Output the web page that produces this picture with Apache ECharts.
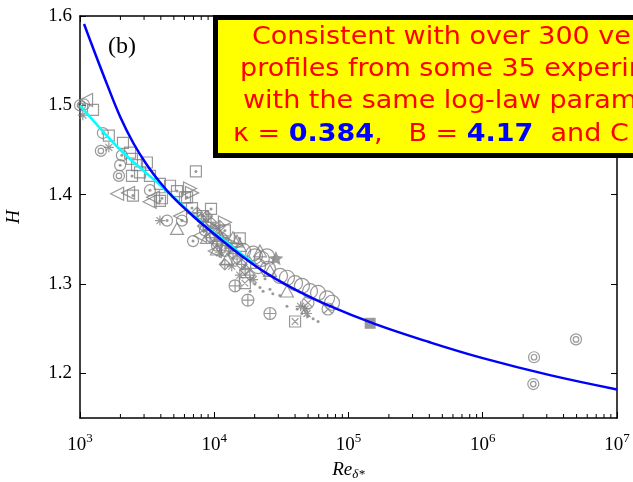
<!DOCTYPE html>
<html>
<head>
<meta charset="utf-8">
<script src="https://cdn.jsdelivr.net/npm/echarts@6/dist/echarts.min.js"></script>
<style>
  html, body { margin: 0; padding: 0; background: #fff; }
  #show { width: 633px; height: 482px; }
</style>
</head>
<body>
<div id="show"></div>
<script>
// model curve and the short fit line
var blueCurve = [[1072,1.591],[1259,1.563],[1585,1.524],[1995,1.487],[2512,1.457],[3162,1.433],[3981,1.413],
    [5012,1.396],[7079,1.375],[10000,1.356],[15850,1.332],[25120,1.311],[39810,1.294],[70800,1.276],
    [158500,1.255],[398100,1.235],[1000000,1.217],[3162000,1.198],[10000000,1.182]];
var cyanLine = [[1000,1.500],[2000,1.450],[4150,1.408],[8250,1.367],[11600,1.350],[20000,1.322]];

// experimental profiles, one array per marker type
var circleDot = [[1070,1.501],[1480,1.469],[2050,1.444],[1990,1.433],[5750,1.371],[6950,1.348],[4450,1.371],
    [8530,1.360],[10480,1.343],[3320,1.405],[12000,1.337]];
var squareDot = [[2440,1.421],[2480,1.399],[7300,1.426],[4080,1.396],[5280,1.404],[6270,1.397],[6830,1.385],
    [9460,1.384],[8250,1.376],[3940,1.393],[12000,1.360],[15500,1.351]];
var openSquare = [[1250,1.495],[1640,1.466],[2090,1.458],[2360,1.447],[2440,1.440],[2660,1.433],[3150,1.436],
    [3940,1.412],[6050,1.397],[2800,1.425],[3320,1.421],[4680,1.410]];
var triLeft = [[1110,1.506],[1890,1.401],[2280,1.402],[3500,1.397],[3300,1.392],[5560,1.376],[7830,1.354],[10100,1.337]];
var triRight = [[6600,1.407],[6830,1.402],[12000,1.369],[14300,1.343],[9300,1.365]];
var triUp = [[14800,1.348],[34800,1.292],[21900,1.337],[11000,1.354],[18400,1.324],[26000,1.315],[5280,1.362],
    [8830,1.352],[13800,1.352],[15500,1.343],[10480,1.339],[12450,1.328]];
var bigCircle = [[16400,1.337],[20100,1.331],[21200,1.320],[25100,1.317],[30900,1.309],[34800,1.307],[40000,1.301],
    [45000,1.298],[51700,1.292],[59300,1.290],[69200,1.284],[75400,1.279],[22600,1.328],[19500,1.334],[24700,1.331]];
var circlePlus = [[14300,1.298],[17800,1.282],[26000,1.267]];
var squareX = [[16900,1.301],[40000,1.258]];
var circleX = [[49900,1.279],[70400,1.272]];
var concentric = [[1000,1.500],[1430,1.449],[1950,1.421],[2410000,1.218],[2380000,1.188],[4950000,1.238]];
var asterisk = [[1050,1.489],[1640,1.453],[3940,1.371],[47400,1.272],[49100,1.267],[13500,1.320],[15500,1.310],
    [19500,1.305],[11000,1.335],[44000,1.275]];
var starPts = [[28800,1.329]];
var smallDots = [[21900,1.296],[23100,1.292],[26000,1.294],[27300,1.289],[30800,1.287],[34800,1.275],[41400,1.272],
    [44900,1.267],[49900,1.264],[54500,1.261],[59300,1.258],[20100,1.300],[23900,1.306],[18500,1.292]];
var diamondPlus = [[7440,1.380],[8000,1.373],[8830,1.376],[9460,1.369],[9790,1.362],[10500,1.357],[11000,1.365],
    [11600,1.352],[12450,1.346],[13100,1.340],[13800,1.334],[14800,1.328],[16000,1.322],[17000,1.316],[18400,1.310],
    [8250,1.365],[9300,1.352],[10500,1.345],[12000,1.322]];
var filledSquare = [[145000,1.256]];

var yTicks = [1.2, 1.3, 1.4, 1.5, 1.6];
var decades = [1e3, 1e4, 1e5, 1e6];
var minorMult = [2, 3, 4, 5, 6, 7, 8, 9];

var minorTicks = [];
decades.forEach(function (d) {
    minorMult.forEach(function (m) { minorTicks.push([d * m, 1.15]); });
});

var gray = '#808080';
var P_CIRCLE = 'path://M0,10 A10,10 0 1,1 20,10 A10,10 0 1,1 0,10 Z';
var P_SQUARE = 'path://M0,0 L20,0 L20,20 L0,20 Z';
var P_TLEFT = 'path://M0,10 L20,0 L20,20 Z';
var P_TRIGHT = 'path://M20,10 L0,0 L0,20 Z';
var P_TUP = 'path://M10,0 L20,18 L0,18 Z';
var P_CPLUS = 'path://M0,10 A10,10 0 1,1 20,10 A10,10 0 1,1 0,10 Z M10,0 L10,20 M0,10 L20,10';
var P_SQX = 'path://M0,0 L20,0 L20,20 L0,20 Z M4,4 L16,16 M16,4 L4,16';
var P_CX = 'path://M0,10 A10,10 0 1,1 20,10 A10,10 0 1,1 0,10 Z M3,3 L17,17 M17,3 L3,17';
var P_CONC = 'path://M0,10 A10,10 0 1,1 20,10 A10,10 0 1,1 0,10 Z M5,10 A5,5 0 1,1 15,10 A5,5 0 1,1 5,10 Z';
var P_AST = 'path://M10,0 L10,20 M0,10 L20,10 M3,3 L17,17 M17,3 L3,17';
var P_STAR = 'path://M10,0 L12.9,6.9 L20,7.6 L14.6,12.2 L16.2,19.1 L10,15.3 L3.8,19.1 L5.4,12.2 L0,7.6 L7.1,6.9 Z';
var P_DPLUS = 'path://M10,0 L20,10 L10,20 L0,10 Z M10,0 L10,20 M0,10 L20,10';

function openSeries(data, symbol, size) {
    return {
        type: 'scatter', data: data, symbol: symbol, symbolSize: size, symbolKeepAspect: true,
        itemStyle: { color: 'transparent', borderColor: gray, borderWidth: 1.2 },
        silent: true, clip: false
    };
}
function fillSeries(data, symbol, size) {
    return {
        type: 'scatter', data: data, symbol: symbol, symbolSize: size, symbolKeepAspect: true,
        itemStyle: { color: gray }, silent: true, clip: false
    };
}

var serif = '"Liberation Serif", "DejaVu Serif", serif';
var boxFont = '25px "DejaVu Sans"';
var myChart = echarts.init(document.getElementById('show'));

var xAxisBase = {
    type: 'log', logBase: 10, min: 1e3, max: 1e7,
    axisLine: { show: true, lineStyle: { color: '#000', width: 1.5 } },
    axisTick: { show: true, inside: true, length: 6, lineStyle: { color: '#000', width: 1 } },
    splitLine: { show: false }
};
var yAxisBase = {
    type: 'value', min: 1.15, max: 1.6,
    axisLine: { show: true, lineStyle: { color: '#000', width: 1.5 } },
    axisTick: { show: true, inside: true, length: 6, customValues: yTicks, lineStyle: { color: '#000', width: 1 } },
    splitLine: { show: false }
};

function boxLine(text, x, y) {
    return { type: 'text', x: x, y: y, scaleX: 1.08, z: 101,
        style: { text: text, font: boxFont, fill: '#ff0000', verticalAlign: 'middle' } };
}

var option = {
    animation: false,
    backgroundColor: '#fff',
    grid: { left: 80, right: 16, top: 16, bottom: 64, outerBoundsMode: 'none' },
    xAxis: [
        Object.assign({}, xAxisBase, {
            position: 'bottom',
            name: '{i|Re}{s|δ*}', nameLocation: 'middle', nameGap: 40,
            nameTextStyle: {
                rich: {
                    i: { fontFamily: serif, fontStyle: 'italic', fontSize: 19, color: '#000' },
                    s: { fontFamily: serif, fontStyle: 'italic', fontSize: 13, color: '#000', padding: [10, 0, 0, 0] }
                }
            },
            axisLabel: {
                margin: 14,
                formatter: function (v) { return '{b|10}{s|' + Math.round(Math.log10(v)) + '}'; },
                rich: {
                    b: { fontFamily: serif, fontSize: 19, color: '#000', lineHeight: 26 },
                    s: { fontFamily: serif, fontSize: 13, color: '#000', lineHeight: 14, verticalAlign: 'top' }
                }
            }
        }),
        Object.assign({}, xAxisBase, { position: 'top', axisLabel: { show: false } })
    ],
    yAxis: [
        Object.assign({}, yAxisBase, {
            position: 'left',
            name: 'H', nameLocation: 'middle', nameGap: 57, nameRotate: 90,
            nameTextStyle: { fontFamily: serif, fontStyle: 'italic', fontSize: 19, color: '#000' },
            axisLabel: { customValues: yTicks, margin: 8, fontFamily: serif, fontSize: 19, color: '#000',
                formatter: function (v) { return v.toFixed(1); } }
        }),
        Object.assign({}, yAxisBase, { position: 'right', axisLabel: { show: false } })
    ],
    graphic: [
        { type: 'text', x: 108, y: 47, style: { text: '(b)', font: '24px ' + serif, fill: '#000', verticalAlign: 'middle' } },
        { type: 'rect', shape: { x: 215.5, y: 17.5, width: 520, height: 138 },
          style: { fill: '#ffff00', stroke: '#000', lineWidth: 5 }, z: 100 },
        boxLine('Consistent with over 300 velocity', 252, 37),
        boxLine('profiles from some 35 experiments', 240, 69),
        boxLine('with the same log-law parameters', 243, 101),
        { type: 'text', x: 233, y: 134, scaleX: 1.08, z: 101, style: {
            text: '{r|κ = }{b|0.384}{r|,   B = }{b|4.17}{r|  and C}',
            verticalAlign: 'middle',
            rich: {
                r: { font: boxFont, fill: '#ff0000' },
                b: { font: 'bold ' + boxFont, fill: '#0000ff' }
            } } }
    ],
    series: [
        openSeries(circleDot, P_CIRCLE, 11),
        openSeries(squareDot, P_SQUARE, 11),
        fillSeries(circleDot.concat(squareDot), 'circle', 3),
        openSeries(openSquare, P_SQUARE, 11),
        openSeries(triLeft, P_TLEFT, 13),
        openSeries(triRight, P_TRIGHT, 13),
        openSeries(triUp, P_TUP, 13),
        openSeries(bigCircle, P_CIRCLE, 15),
        openSeries(circlePlus, P_CPLUS, 12),
        openSeries(squareX, P_SQX, 11),
        openSeries(circleX, P_CX, 12),
        openSeries(concentric, P_CONC, 11),
        openSeries(asterisk, P_AST, 10),
        openSeries(diamondPlus, P_DPLUS, 11),
        fillSeries(starPts, P_STAR, 15),
        fillSeries(smallDots, 'circle', 3),
        fillSeries(filledSquare, 'rect', 11),
        {
            type: 'custom', data: minorTicks, silent: true, clip: false,
            renderItem: function (params, api) {
                var v = api.value(0);
                var b = api.coord([v, 1.15]);
                var t = api.coord([v, 1.6]);
                return { type: 'group', children: [
                    { type: 'line', shape: { x1: b[0], y1: b[1], x2: b[0], y2: b[1] - 4 }, style: { stroke: '#000', lineWidth: 1 } },
                    { type: 'line', shape: { x1: t[0], y1: t[1], x2: t[0], y2: t[1] + 4 }, style: { stroke: '#000', lineWidth: 1 } }
                ] };
            }
        },
        { type: 'line', data: cyanLine, showSymbol: false, smooth: 0.3, silent: true,
          lineStyle: { color: '#00ffff', width: 2.5 } },
        { type: 'line', data: blueCurve, showSymbol: false, smooth: 0.4, silent: true,
          lineStyle: { color: '#0000ff', width: 2.5 } }
    ]
};
myChart.setOption(option);
</script>
</body>
</html>
